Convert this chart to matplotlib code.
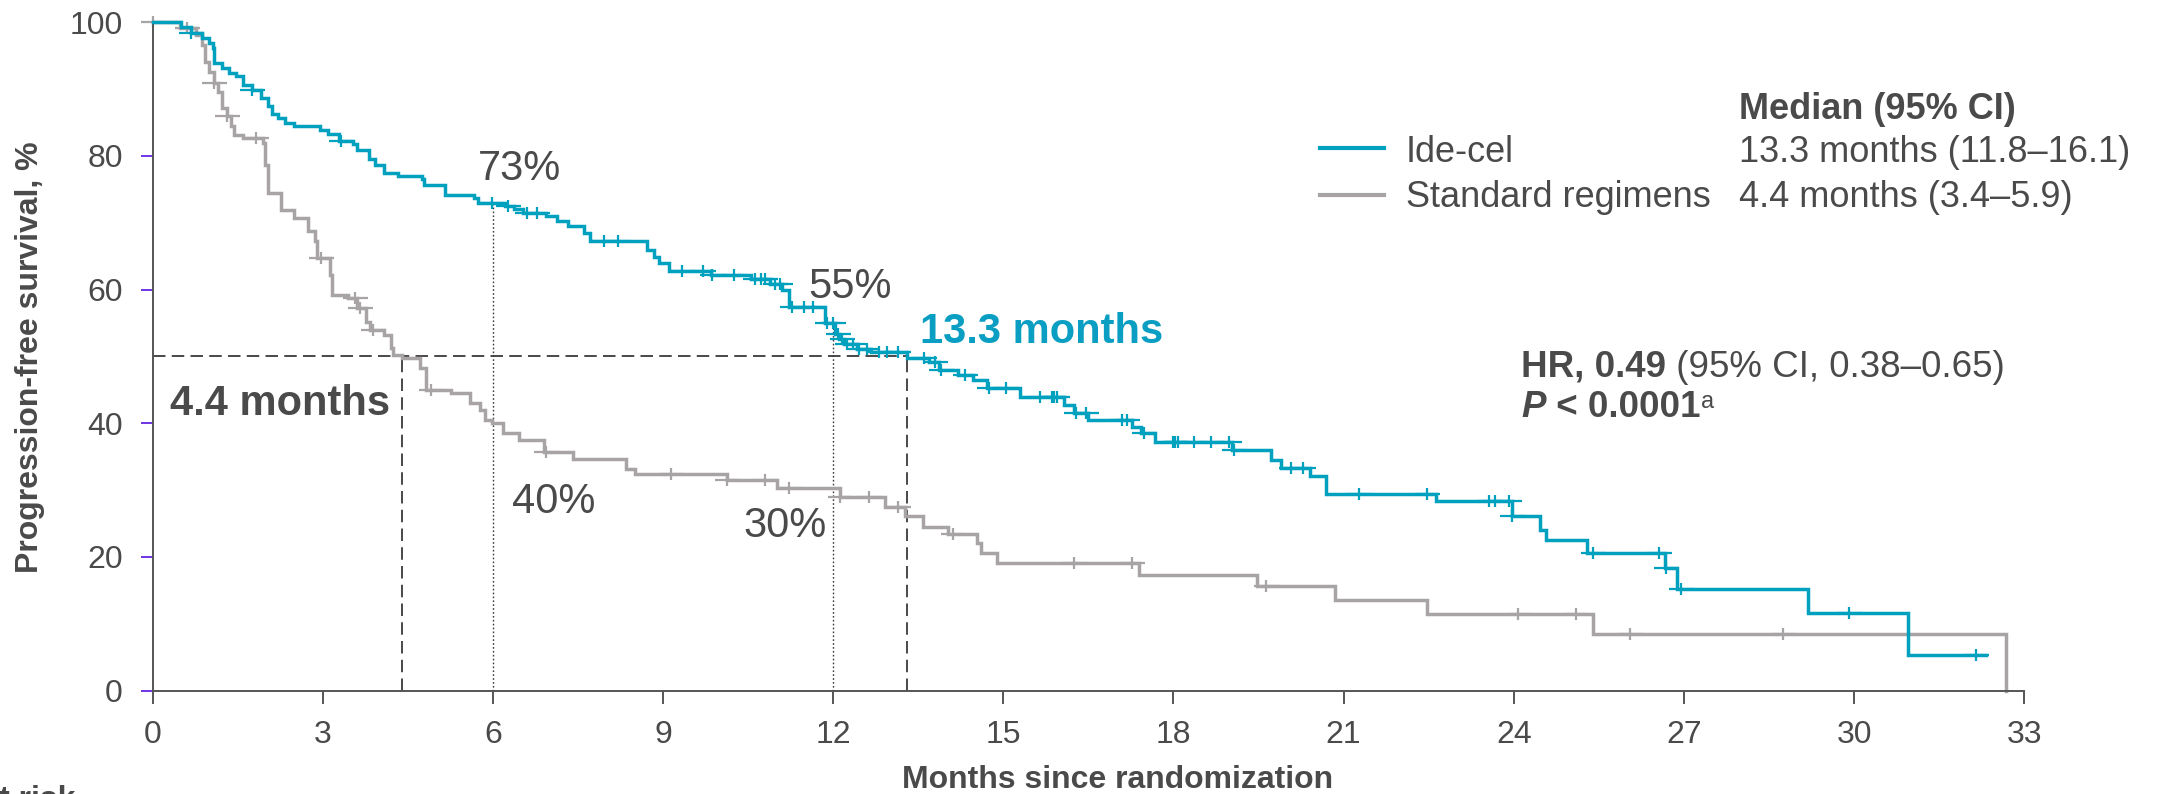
import numpy as np
import matplotlib
matplotlib.use("Agg")
import matplotlib.pyplot as plt
from matplotlib.lines import Line2D
from matplotlib.path import Path

plt.rcParams['font.family'] = ['Liberation Sans', 'DejaVu Sans']
plt.rcParams['lines.scale_dashes'] = False

# ---------------------------------------------------------------- data
# Kaplan-Meier step curves: time of each step (months) and survival after it (%)
ide_times = [0, 0.50, 0.68, 0.88, 1.00, 1.06, 1.09, 1.23, 1.35, 1.47, 1.59, 1.75,
             1.91, 2.03, 2.10, 2.22, 2.34, 2.50, 2.96, 3.09, 3.29, 3.53, 3.61, 3.81,
             3.92, 4.08, 4.32, 4.75, 4.79, 5.15, 5.66, 5.74, 6.22, 6.38, 6.53, 6.93,
             7.13, 7.33, 7.60, 7.72, 8.72, 8.84, 8.93, 9.10, 9.85, 10.55, 10.89, 11.10,
             11.23, 11.86, 12.03, 12.10, 12.20, 12.42, 12.67, 13.30, 13.69, 13.86, 14.20,
             14.46, 14.71, 15.30, 16.07, 16.24, 16.50, 17.26, 17.43, 17.68, 19.04, 19.72,
             19.90, 20.40, 20.69, 22.63, 23.97, 24.46, 24.56, 25.29, 26.66, 26.88, 29.19,
             30.95]
ide_surv = [100, 99.3, 98.4, 97.6, 96.9, 96.1, 93.9, 93.1, 92.4, 91.9, 90.6, 89.9,
            88.7, 87.4, 86.2, 85.7, 84.9, 84.4, 83.9, 83.2, 82.2, 81.7, 80.9, 79.5,
            78.7, 77.5, 77.0, 76.5, 75.7, 74.2, 73.7, 73.0, 72.5, 72.0, 71.5, 71.0,
            70.2, 69.5, 68.5, 67.3, 65.9, 64.9, 63.9, 62.8, 62.1, 61.5, 60.9, 59.9,
            57.4, 55.0, 53.4, 52.6, 51.9, 51.1, 50.6, 49.8, 49.2, 47.9, 47.2,
            46.4, 45.2, 43.9, 42.7, 41.5, 40.5, 39.5, 38.5, 37.2, 36.0, 34.5,
            33.3, 32.1, 29.4, 28.3, 26.1, 24.0, 22.5, 20.6, 18.3, 15.2, 11.6,
            5.3]
ide_end = 32.32
ide_censor = [0.68, 1.75, 3.33, 5.98, 6.26, 6.61, 6.77, 7.96, 8.20, 9.34, 9.70, 9.87,
              10.25, 10.63, 10.72, 10.80, 10.97, 11.06, 11.27, 11.48, 11.65, 11.90,
              12.00, 12.08, 12.15, 12.25, 12.35, 12.45, 12.60, 12.80, 12.95, 13.15,
              13.60, 13.80, 13.90, 14.33, 14.75, 15.05, 15.65, 15.85, 15.90, 15.95,
              16.29, 16.46, 17.09, 17.18, 17.48, 17.99, 18.03, 18.08, 18.37, 18.67,
              18.97, 19.06, 20.08, 20.29, 21.27, 22.47, 23.56, 23.67, 23.92, 23.97,
              25.39, 26.56, 26.68, 26.95, 29.91, 32.15]

std_times = [0, 0.48, 0.76, 0.88, 0.93, 1.00, 1.08, 1.16, 1.23, 1.31, 1.39, 1.43,
             1.59, 1.95, 1.99, 2.03, 2.26, 2.50, 2.74, 2.86, 2.90, 3.13, 3.17, 3.45,
             3.61, 3.77, 3.84, 4.08, 4.20, 4.24, 4.40, 4.72, 4.83, 5.27, 5.59, 5.78,
             5.86, 5.98, 6.18, 6.46, 6.90, 7.41, 8.35, 8.51, 10.12, 11.01, 12.12, 12.91,
             13.27, 13.58, 14.03, 14.54, 14.61, 14.89, 17.40, 19.48, 20.84, 22.47,
             25.39, 32.68]
std_surv = [100, 99.1, 98.1, 96.6, 94.1, 92.6, 90.9, 89.6, 87.1, 85.9, 84.4, 83.1,
            82.6, 81.9, 78.7, 74.4, 71.9, 70.7, 68.7, 67.2, 64.7, 62.2, 59.2, 58.7,
            57.2, 55.2, 54.0, 53.2, 51.2, 50.2, 49.7, 48.2, 45.0, 44.5, 43.0, 42.0,
            40.5, 40.0, 38.5, 37.5, 35.7, 34.7, 33.2, 32.4, 31.5, 30.3, 29.0, 27.5,
            26.1, 24.5, 23.4, 22.1, 20.5, 19.1, 17.3, 15.6, 13.5, 11.5,
            8.4, 0.0]
std_end = 32.68
std_censor = [0.0, 0.60, 1.08, 1.31, 1.83, 2.97, 3.57, 3.65, 3.88, 4.91, 6.93, 9.15,
              10.12, 10.80, 11.23, 12.12, 12.63, 13.14, 14.12, 16.25, 17.27, 19.63,
              24.07, 25.09, 26.05, 28.74]

series_names = ['Ide-cel', 'Standard regimens']
medians = [13.3, 4.4]
median_text = ['13.3 months (11.8\u201316.1)', '4.4 months (3.4\u20135.9)']
landmarks_ide = [(6, 73), (12, 55)]
landmarks_std = [(6, 40), (12, 30)]
x_ticks = list(range(0, 34, 3))
y_ticks = [0, 20, 40, 60, 80, 100]

# ---------------------------------------------------------------- style
W, H, DPI = 2174, 794, 100
TEXT = '#4A4A4A'
AXIS = '#555555'
BLUE = '#00A0BF'
BLUE_TXT = '#0A9EC2'
GREY = '#A8A3A4'
PURPLE = '#6E35E6'
GUIDE = '#3A3A3A'

# censor tick: wide horizontal arm, shorter vertical arm
CENSOR = Path([(-1.0, 0.0), (1.0, 0.0), (0.0, -0.48), (0.0, 0.48)],
              [Path.MOVETO, Path.LINETO, Path.MOVETO, Path.LINETO])


def fx(px):
    return px / W


def fy(py):
    return 1 - py / H


fig = plt.figure(figsize=(W / DPI, H / DPI), dpi=DPI)
fig.patch.set_facecolor('white')
ax = fig.add_axes([fx(152.5), fy(690.5), fx(2024.3) - fx(152.5), fy(22.2) - fy(690.5)])
ax.set_xlim(0, 33)
ax.set_ylim(0, 100)

for side in ('top', 'right'):
    ax.spines[side].set_visible(False)
for side in ('left', 'bottom'):
    ax.spines[side].set_color(AXIS)
    ax.spines[side].set_linewidth(1.4)

ax.set_xticks(x_ticks)
ax.set_yticks(y_ticks)
ax.tick_params(axis='x', direction='out', length=9.4, width=1.4, color=AXIS,
               labelsize=23, labelcolor=TEXT, pad=11.5)
ax.tick_params(axis='y', direction='out', length=8.8, width=1.4, color=PURPLE,
               labelsize=23, labelcolor=TEXT, pad=12.5)
ax.yaxis.get_major_ticks()[0].tick1line.set_color(AXIS)


# ---------------------------------------------------------------- guides
def step_value(times, surv, t):
    i = np.searchsorted(times, t, side='right') - 1
    return np.asarray(surv)[i]


guide_dash = dict(color=GUIDE, lw=1.3, dashes=(9, 4.5), zorder=1)
ax.plot([0, medians[0]], [50, 50], **guide_dash)
for m in medians:
    ax.plot([m, m], [0, 50], **guide_dash)

guide_dot = dict(color=GUIDE, lw=1.0, dashes=(1.2, 1.6), zorder=1)
for (t, v) in landmarks_ide:
    ax.plot([t, t], [0, v], **guide_dot)

# ---------------------------------------------------------------- curves
for times, surv, end, cens, col, z in [
        (std_times, std_surv, std_end, std_censor, GREY, 2),
        (ide_times, ide_surv, ide_end, ide_censor, BLUE, 3)]:
    xs = list(times) + [end]
    ys = list(surv) + [surv[-1]]
    ax.step(xs, ys, where='post', color=col, lw=2.5, zorder=z, clip_on=False,
            solid_joinstyle='miter')
    cy = [step_value(times, surv, c) for c in cens]
    ax.plot(cens, cy, ls='none', marker=CENSOR, ms=18, mew=1.6, color=col,
            zorder=z, clip_on=False)


# ---------------------------------------------------------------- text
def put(x_px, base_px, s, **kw):
    kw.setdefault('color', TEXT)
    return fig.text(fx(x_px), fy(base_px), s, ha='left', va='baseline', **kw)


renderer = fig.canvas.get_renderer()


def run(x_px, base_px, parts):
    x = x_px
    for s, kw in parts:
        t = put(x, base_px, s, **kw)
        x += t.get_window_extent(renderer).width
    return x


put(478, 180, f'{landmarks_ide[0][1]}%', fontsize=30)
put(808, 298, f'{landmarks_ide[1][1]}%', fontsize=30)
put(512, 513, f'{landmarks_std[0][1]}%', fontsize=30)
put(743, 537, f'{landmarks_std[1][1]}%', fontsize=30)
put(920, 343, f'{medians[0]} months', fontsize=30, fontweight='bold', color=BLUE_TXT)
put(170, 415, f'{medians[1]} months', fontsize=30, fontweight='bold')

# legend
for col, yy, name, med, base in [(BLUE, 147.7, series_names[0], median_text[0], 162),
                                 (GREY, 194.5, series_names[1], median_text[1], 207)]:
    fig.add_artist(Line2D([fx(1319.5), fx(1383.6)], [fy(yy), fy(yy)],
                          transform=fig.transFigure, color=col, lw=3))
    put(1406, base, name, fontsize=26)
    put(1738.7, base, med, fontsize=26)
put(1738.7, 119, 'Median (95% CI)', fontsize=26, fontweight='bold')

run(1521, 377, [('HR, 0.49', dict(fontsize=26.5, fontweight='bold')),
                (' (95% CI, 0.38\u20130.65)', dict(fontsize=26.5))])
xe = run(1521, 417, [('P', dict(fontsize=26.5, fontweight='bold', fontstyle='italic')),
                     (' < 0.0001', dict(fontsize=26.5, fontweight='bold'))])
put(xe + 1, 408, 'a', fontsize=17)

# axis titles
fig.text(fx(1118), fy(788), 'Months since randomization', ha='center', va='baseline',
         fontsize=23, fontweight='bold', color=TEXT)
fig.text(fx(30), fy(357), 'Progression-free survival, %', ha='center', va='center',
         rotation=90, fontsize=23, fontweight='bold', color=TEXT)
fig.text(fx(75), fy(808), 'No. at risk', ha='right', va='baseline',
         fontsize=23, fontweight='bold', color=TEXT)

fig.savefig('out.png', dpi=DPI, facecolor='white')
